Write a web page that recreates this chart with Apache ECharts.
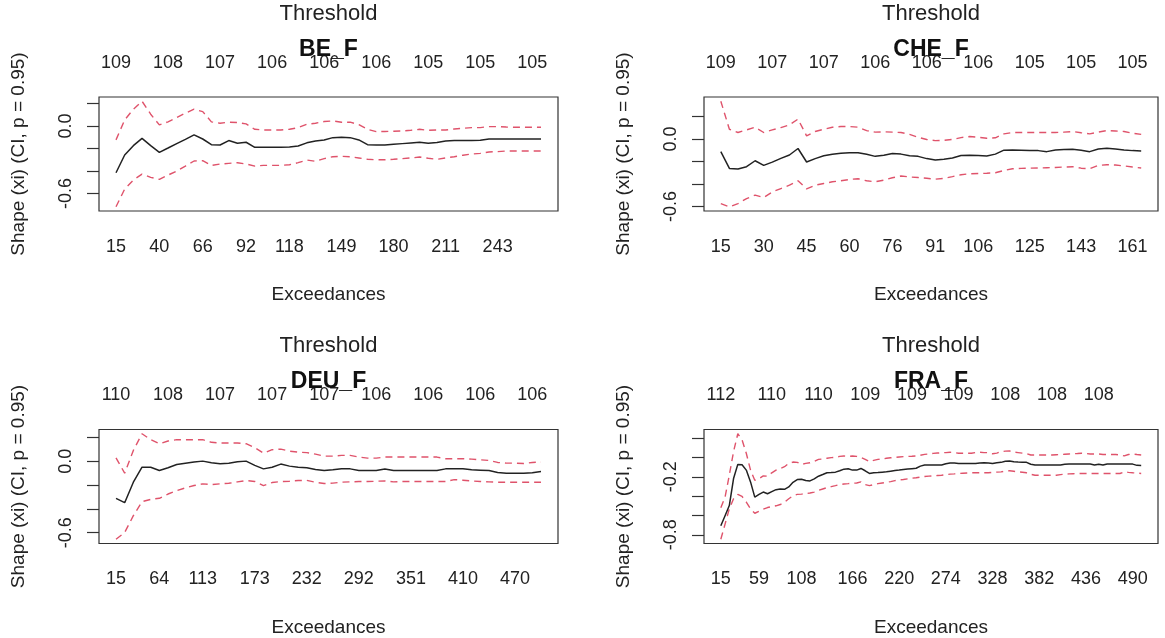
<!DOCTYPE html>
<html>
<head>
<meta charset="utf-8">
<script src="https://cdn.jsdelivr.net/npm/echarts@6/dist/echarts.min.js"></script>
<style>
html,body{margin:0;padding:0;background:#fff;}
#chart{width:1165px;height:638px;}
</style>
</head>
<body>
<div id="chart"></div>
<script>
// ---------------- DATA ----------------
// BE_F (50 models)
const beShape = [-0.415,-0.258,-0.175,-0.11,-0.175,-0.234,-0.196,-0.157,-0.119,-0.08,
  -0.116,-0.166,-0.169,-0.13,-0.154,-0.145,-0.19,-0.19,-0.19,-0.19,
  -0.187,-0.178,-0.15,-0.133,-0.124,-0.104,-0.10,-0.104,-0.124,-0.166,
  -0.169,-0.169,-0.163,-0.157,-0.151,-0.145,-0.154,-0.148,-0.133,-0.13,
  -0.13,-0.13,-0.127,-0.116,-0.116,-0.116,-0.116,-0.116,-0.116,-0.116];
const beUpper = [-0.124,0.053,0.148,0.219,0.104,0.009,0.036,0.074,0.113,0.148,
  0.127,0.036,0.024,0.033,0.03,0.018,-0.03,-0.036,-0.036,-0.036,
  -0.03,-0.015,0.015,0.024,0.039,0.044,0.033,0.033,0.012,-0.03,
  -0.05,-0.05,-0.047,-0.045,-0.039,-0.03,-0.039,-0.036,-0.036,-0.027,
  -0.021,-0.015,-0.015,-0.006,-0.006,-0.01,-0.012,-0.012,-0.012,-0.012];
const beLower = [-0.717,-0.56,-0.48,-0.427,-0.456,-0.474,-0.436,-0.40,-0.356,-0.311,
  -0.308,-0.35,-0.338,-0.332,-0.326,-0.338,-0.356,-0.35,-0.35,-0.35,
  -0.344,-0.326,-0.303,-0.314,-0.29,-0.273,-0.27,-0.273,-0.284,-0.296,
  -0.30,-0.30,-0.296,-0.29,-0.284,-0.276,-0.287,-0.296,-0.284,-0.273,
  -0.26,-0.249,-0.243,-0.231,-0.228,-0.222,-0.222,-0.222,-0.222,-0.222];
const beExcIdx = [0,5,10,15,20,26,32,38,44];
const beExcLab = ['15','40','66','92','118','149','180','211','243'];
const beThrIdx = [0,6,12,18,24,30,36,42,48];
const beThrLab = ['109','108','107','106','106','106','105','105','105'];

// CHE_F (50 models)
const cheShape = [-0.113,-0.262,-0.268,-0.247,-0.194,-0.235,-0.206,-0.173,-0.143,-0.085,
  -0.205,-0.175,-0.15,-0.137,-0.128,-0.122,-0.122,-0.137,-0.155,-0.145,
  -0.13,-0.135,-0.15,-0.155,-0.175,-0.188,-0.18,-0.17,-0.148,-0.145,
  -0.148,-0.152,-0.135,-0.1,-0.098,-0.1,-0.102,-0.104,-0.113,-0.098,
  -0.095,-0.092,-0.1,-0.113,-0.09,-0.083,-0.09,-0.098,-0.104,-0.107];
const cheUpper = [0.335,0.086,0.057,0.08,0.104,0.057,0.08,0.101,0.125,0.176,
  0.027,0.066,0.086,0.104,0.11,0.11,0.104,0.074,0.06,0.063,
  0.06,0.057,0.04,0.015,-0.005,-0.015,-0.012,-0.005,0.012,0.021,
  0.015,0.006,0.01,0.045,0.057,0.057,0.057,0.057,0.057,0.057,
  0.06,0.066,0.055,0.045,0.06,0.074,0.07,0.066,0.05,0.04];
const cheLower = [-0.575,-0.603,-0.575,-0.53,-0.5,-0.521,-0.471,-0.441,-0.411,-0.372,
  -0.444,-0.411,-0.396,-0.381,-0.372,-0.36,-0.354,-0.372,-0.381,-0.366,
  -0.345,-0.33,-0.338,-0.343,-0.35,-0.358,-0.35,-0.335,-0.318,-0.31,
  -0.307,-0.305,-0.301,-0.28,-0.265,-0.262,-0.26,-0.258,-0.256,-0.254,
  -0.25,-0.247,-0.26,-0.265,-0.235,-0.229,-0.232,-0.24,-0.25,-0.258];
const cheExcIdx = [0,5,10,15,20,25,30,36,42,48];
const cheExcLab = ['15','30','45','60','76','91','106','125','143','161'];
const cheThrIdx = [0,6,12,18,24,30,36,42,48];
const cheThrLab = ['109','107','107','106','106','106','105','105','105'];

// DEU_F (50 models)
const deuShape = [-0.312,-0.348,-0.176,-0.05,-0.05,-0.078,-0.055,-0.027,-0.016,-0.007,
  0.001,-0.013,-0.021,-0.016,-0.005,0.001,-0.035,-0.064,-0.05,-0.024,
  -0.041,-0.05,-0.055,-0.069,-0.078,-0.072,-0.064,-0.064,-0.078,-0.078,
  -0.078,-0.066,-0.078,-0.078,-0.078,-0.078,-0.078,-0.078,-0.064,-0.064,
  -0.064,-0.072,-0.075,-0.078,-0.094,-0.1,-0.1,-0.1,-0.097,-0.086];
const deuUpper = [0.029,-0.1,0.091,0.231,0.181,0.147,0.17,0.181,0.181,0.181,
  0.181,0.159,0.153,0.153,0.153,0.147,0.114,0.068,0.097,0.102,
  0.085,0.077,0.072,0.06,0.043,0.043,0.049,0.049,0.035,0.026,
  0.026,0.035,0.035,0.035,0.035,0.035,0.035,0.035,0.021,0.021,
  0.021,0.018,0.012,0.007,-0.01,-0.016,-0.016,-0.019,-0.01,-0.007];
const deuLower = [-0.655,-0.598,-0.457,-0.339,-0.32,-0.311,-0.275,-0.246,-0.224,-0.204,
  -0.19,-0.196,-0.19,-0.185,-0.173,-0.162,-0.17,-0.204,-0.179,-0.17,
  -0.168,-0.162,-0.161,-0.176,-0.187,-0.184,-0.176,-0.173,-0.17,-0.17,
  -0.168,-0.165,-0.173,-0.17,-0.17,-0.17,-0.17,-0.17,-0.17,-0.154,
  -0.159,-0.165,-0.17,-0.173,-0.176,-0.176,-0.176,-0.176,-0.176,-0.176];
const deuExcIdx = [0,5,10,16,22,28,34,40,46];
const deuExcLab = ['15','64','113','173','232','292','351','410','470'];
const deuThrIdx = [0,6,12,18,24,30,36,42,48];
const deuThrLab = ['110','108','107','107','107','106','106','106','106'];

// FRA_F (100 models)
const fraShape = [-0.706,-0.602,-0.497,-0.218,-0.072,-0.076,-0.131,-0.253,-0.41,-0.382,
  -0.358,-0.375,-0.354,-0.333,-0.326,-0.33,-0.305,-0.257,-0.229,-0.225,
  -0.239,-0.243,-0.222,-0.194,-0.177,-0.159,-0.156,-0.152,-0.138,-0.121,
  -0.117,-0.131,-0.131,-0.114,-0.138,-0.166,-0.159,-0.156,-0.152,-0.149,
  -0.142,-0.136,-0.131,-0.125,-0.12,-0.116,-0.112,-0.09,-0.079,-0.079,
  -0.079,-0.079,-0.078,-0.066,-0.058,-0.058,-0.062,-0.062,-0.062,-0.062,
  -0.062,-0.058,-0.055,-0.058,-0.062,-0.055,-0.051,-0.04,-0.036,-0.044,
  -0.048,-0.05,-0.051,-0.07,-0.079,-0.079,-0.079,-0.079,-0.079,-0.079,
  -0.079,-0.07,-0.069,-0.069,-0.069,-0.069,-0.069,-0.069,-0.079,-0.07,
  -0.079,-0.069,-0.069,-0.069,-0.069,-0.069,-0.069,-0.069,-0.082,-0.083];
const fraUpper = [-0.52,-0.41,-0.184,0.06,0.245,0.182,0.043,-0.131,-0.236,-0.218,
  -0.191,-0.194,-0.159,-0.131,-0.114,-0.096,-0.062,-0.048,-0.051,-0.072,
  -0.062,-0.055,-0.041,-0.02,-0.016,-0.009,-0.002,0.001,0.011,0.015,
  0.011,0.015,0.011,0.001,-0.02,-0.044,-0.031,-0.02,-0.016,-0.009,
  -0.004,0.0,0.004,0.008,0.01,0.012,0.015,0.022,0.032,0.036,
  0.042,0.045,0.048,0.05,0.053,0.05,0.043,0.043,0.043,0.043,
  0.05,0.053,0.05,0.05,0.038,0.045,0.06,0.065,0.066,0.055,
  0.05,0.045,0.04,0.025,0.025,0.025,0.025,0.025,0.025,0.028,
  0.03,0.033,0.036,0.038,0.04,0.043,0.04,0.036,0.036,0.036,
  0.03,0.03,0.03,0.03,0.025,0.016,0.03,0.036,0.03,0.025];
const fraLower = [-0.846,-0.689,-0.532,-0.427,-0.382,-0.403,-0.462,-0.532,-0.577,-0.556,
  -0.535,-0.518,-0.508,-0.5,-0.487,-0.462,-0.427,-0.396,-0.382,-0.379,
  -0.375,-0.368,-0.358,-0.34,-0.326,-0.312,-0.302,-0.292,-0.281,-0.274,
  -0.271,-0.267,-0.264,-0.253,-0.281,-0.292,-0.281,-0.271,-0.264,-0.257,
  -0.25,-0.24,-0.232,-0.228,-0.222,-0.215,-0.21,-0.203,-0.197,-0.193,
  -0.19,-0.187,-0.184,-0.178,-0.173,-0.17,-0.166,-0.163,-0.161,-0.159,
  -0.159,-0.159,-0.159,-0.159,-0.155,-0.152,-0.149,-0.142,-0.138,-0.143,
  -0.149,-0.153,-0.159,-0.175,-0.184,-0.184,-0.184,-0.184,-0.184,-0.184,
  -0.178,-0.173,-0.17,-0.168,-0.166,-0.166,-0.166,-0.166,-0.166,-0.166,
  -0.166,-0.166,-0.166,-0.166,-0.166,-0.15,-0.155,-0.159,-0.162,-0.166];
const fraExcIdx = [0,9,19,31,42,53,64,75,86,97];
const fraExcLab = ['15','59','108','166','220','274','328','382','436','490'];
const fraThrIdx = [0,12,23,34,45,56,67,78,89];
const fraThrLab = ['112','110','110','109','109','109','108','108','108'];

const yTicksA = [0.2, 0, -0.2, -0.4, -0.6];
const yLabelsA = [0, -0.6];
const yTicksB = [0.2, 0, -0.2, -0.4, -0.6, -0.8];
const yLabelsB = [-0.2, -0.8];

// ---------------- LAYOUT ----------------
const FONT = "'Liberation Sans', Arial, Helvetica, sans-serif";
const TXT = '#222';
const panels = [
  {name:'BE_F', g:{left:99, top:97, width:459, height:114}, s:beShape, u:beUpper, l:beLower,
   ei:beExcIdx, el:beExcLab, ti:beThrIdx, tl:beThrLab, yt:yTicksA, yl:yLabelsA},
  {name:'CHE_F', g:{left:704, top:97, width:454, height:114}, s:cheShape, u:cheUpper, l:cheLower,
   ei:cheExcIdx, el:cheExcLab, ti:cheThrIdx, tl:cheThrLab, yt:yTicksA, yl:yLabelsA},
  {name:'DEU_F', g:{left:99, top:429.5, width:459, height:114}, s:deuShape, u:deuUpper, l:deuLower,
   ei:deuExcIdx, el:deuExcLab, ti:deuThrIdx, tl:deuThrLab, yt:yTicksA, yl:yLabelsA},
  {name:'FRA_F', g:{left:704, top:429.5, width:454, height:114}, s:fraShape, u:fraUpper, l:fraLower,
   ei:fraExcIdx, el:fraExcLab, ti:fraThrIdx, tl:fraThrLab, yt:yTicksB, yl:yLabelsB}
];

const grid = [], xAxis = [], yAxis = [], series = [], title = [];
panels.forEach((p, i) => {
  const M = p.s.length;
  const xmin = -0.04 * (M - 1), xmax = 1.04 * (M - 1);
  grid.push(Object.assign({show:true, borderColor:'#333', borderWidth:1.2, backgroundColor:'transparent'}, p.g));
  const excMap = {}; p.ei.forEach((k, j) => excMap[k] = p.el[j]);
  const thrMap = {}; p.ti.forEach((k, j) => thrMap[k] = p.tl[j]);
  xAxis.push({
    type:'value', gridIndex:i, position:'bottom', min:xmin, max:xmax,
    axisLine:{show:false, onZero:false}, axisTick:{show:false}, splitLine:{show:false},
    axisLabel:{customValues:p.ei, formatter:v => excMap[v], margin:27, fontSize:18, color:TXT, fontFamily:FONT},
    name:'Exceedances', nameLocation:'middle', nameGap:74.5,
    nameTextStyle:{fontSize:19, color:TXT, fontFamily:FONT}
  });
  xAxis.push({
    type:'value', gridIndex:i, position:'top', min:xmin, max:xmax,
    axisLine:{show:false, onZero:false}, axisTick:{show:false}, splitLine:{show:false},
    axisLabel:{customValues:p.ti, formatter:v => thrMap[v], margin:25, fontSize:18, color:TXT, fontFamily:FONT},
    name:'Threshold', nameLocation:'middle', nameGap:72.5,
    nameTextStyle:{fontSize:22, color:TXT, fontFamily:FONT}
  });
  yAxis.push({
    type:'value', gridIndex:i, position:'left',
    min: v => v.min - 0.04 * (v.max - v.min),
    max: v => v.max + 0.04 * (v.max - v.min),
    axisLine:{show:false, onZero:false}, splitLine:{show:false},
    axisTick:{show:true, length:12, inside:false, customValues:p.yt, lineStyle:{color:'#333', width:1.2}},
    axisLabel:{customValues:p.yl, rotate:90, margin:24, fontSize:18, color:TXT, fontFamily:FONT,
      formatter: v => (Math.abs(v) < 1e-9 ? 0 : v).toFixed(1)},
    name:'Shape (xi) (CI, p = 0.95)', nameLocation:'middle', nameGap:71,
    nameTextStyle:{fontSize:19, color:TXT, fontFamily:FONT}
  });
  const mk = (arr, color, type, width) => ({
    type:'line', xAxisIndex:2 * i, yAxisIndex:i, showSymbol:false, symbol:'none',
    data: arr.map((v, k) => [k, v]), silent:true,
    lineStyle:{color:color, width:width, type:type}
  });
  series.push(mk(p.u, '#DF536B', [7, 5], 1.4));
  series.push(mk(p.l, '#DF536B', [7, 5], 1.4));
  series.push(mk(p.s, '#222222', 'solid', 1.5));
  title.push({
    text:p.name, left:p.g.left + p.g.width / 2, top:p.g.top - 59, textAlign:'center', padding:0,
    textStyle:{fontSize:23, fontWeight:'bold', color:'#111', fontFamily:FONT}
  });
});

const chart = echarts.init(document.getElementById('chart'), null, {renderer:'canvas'});
chart.setOption({backgroundColor:'#fff', animation:false, title, grid, xAxis, yAxis, series});
</script>
</body>
</html>
